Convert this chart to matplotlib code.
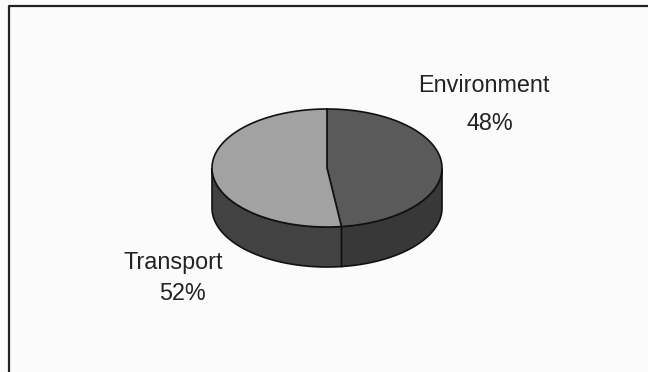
import numpy as np
import matplotlib
matplotlib.use("Agg")
import matplotlib.pyplot as plt
from matplotlib.patches import Polygon

categories = ["Environment", "Transport"]
values = [48, 52]
pct_labels = ["48%", "52%"]

top_colors = ["#5a5a5a", "#a2a2a2"]
wall_colors = ["#383838", "#424242"]

W, H = 648, 372
fig = plt.figure(figsize=(W / 100, H / 100), dpi=100)
fig.patch.set_facecolor("#fbfbfb")
ax = fig.add_axes([0, 0, 1, 1])
ax.set_xlim(0, W)
ax.set_ylim(H, 0)
ax.axis("off")

# frame (left and top edges visible)
ax.plot([9, 9, W + 5], [H + 5, 6, 6], color="#222222", lw=1.6, solid_capstyle="butt")

cx, cy, a, b, depth = 327, 168, 115, 59, 40

def pt(t, dz=0.0):
    return cx + a * np.cos(np.radians(t)), cy - b * np.sin(np.radians(t)) + dz

fr = np.array(values, dtype=float) / sum(values)
bounds = 90 - 360 * np.concatenate([[0], np.cumsum(fr)])

# side walls (front half: angles between -180 and 0)
for i in range(len(values)):
    t0, t1 = bounds[i], bounds[i + 1]
    lo, hi = max(t1, -180), min(t0, 0)
    if hi > lo:
        ts = np.linspace(hi, lo, 80)
        top = [pt(t) for t in ts]
        bot = [pt(t, depth) for t in ts[::-1]]
        ax.add_patch(Polygon(top + bot, closed=True, facecolor=wall_colors[i],
                             edgecolor="#111111", lw=1.2, zorder=2))

# top faces
for i in range(len(values)):
    t0, t1 = bounds[i], bounds[i + 1]
    ts = np.linspace(t0, t1, 150)
    verts = [(cx, cy)] + [pt(t) for t in ts]
    ax.add_patch(Polygon(verts, closed=True, facecolor=top_colors[i],
                         edgecolor="#111111", lw=1.2, zorder=3))

# labels
fs = 16.8
kw = dict(ha="center", va="center", fontsize=fs, family="Liberation Sans", color="#222222")
ax.text(484, 86, categories[0], **kw)
ax.text(490, 124, pct_labels[0], **kw)
ax.text(173, 262, categories[1], **kw)
ax.text(182, 294, pct_labels[1], **kw)

fig.savefig("out.png", dpi=100, facecolor=fig.get_facecolor())
